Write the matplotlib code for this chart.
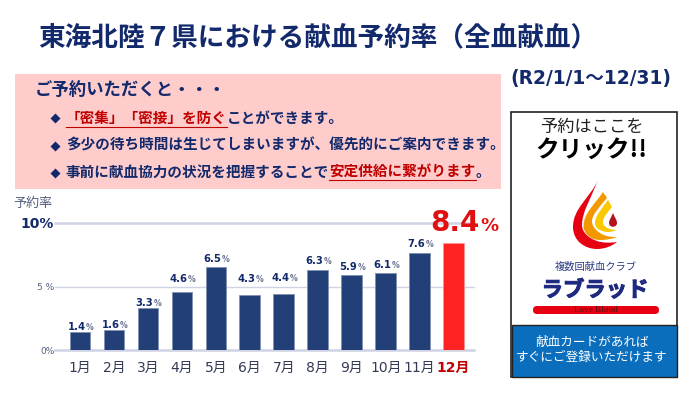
import matplotlib
matplotlib.use("Agg")
import matplotlib.pyplot as plt
from matplotlib.patches import Rectangle, FancyBboxPatch, PathPatch
from matplotlib.path import Path
import matplotlib.patheffects as pe

plt.rcParams['font.family'] = ['Noto Sans CJK JP', 'DejaVu Sans']
LATIN_FIRST = ['DejaVu Sans', 'Noto Sans CJK JP']

months = ["1月", "2月", "3月", "4月", "5月", "6月", "7月", "8月", "9月", "10月", "11月", "12月"]
rates = [1.4, 1.6, 3.3, 4.6, 6.5, 4.3, 4.4, 6.3, 5.9, 6.1, 7.6, 8.4]
y_ticks = [0, 5, 10]
y_labels = ["0%", "5 %", "10%"]
# where the value labels sit in the picture (pixels from top), they don't follow the bars evenly
label_base_px = [330.5, 327.5, 306, 282, 262, 282, 281, 264, 270, 268, 247]

NAVY = "#12296b"
BAR = "#233f77"
RED = "#ff2222"
DARKRED = "#c00000"
W, H = 700, 394

fig = plt.figure(figsize=(7.0, 3.94), dpi=100)
# pixel space overlay, y runs downward like the reference
bg = fig.add_axes([0, 0, 1, 1])
bg.set_xlim(0, W)
bg.set_ylim(H, 0)
bg.axis("off")


def runs(x, y, parts, size, weight="bold", underline_y=None):
    # put text pieces one after another, parts = (text, colour, underlined)
    r = fig.canvas.get_renderer()
    for s, col, ul in parts:
        t = bg.text(x, y, s, color=col, fontsize=size, fontweight=weight, va="center", ha="left")
        w = t.get_window_extent(r).width
        if ul:
            bg.plot([x, x + w], [underline_y, underline_y], color=col, lw=0.8)
        x += w


bg.text(38, 38, "東海北陸７県における献血予約率（全血献血）", color=NAVY, fontsize=19.2,
        fontweight="bold", va="center", ha="left")
bg.text(510, 78, "(R2/1/1～12/31)", color=NAVY, fontsize=13.4, fontweight="bold", va="center", ha="left",
        family=LATIN_FIRST)

# pink box
bg.add_patch(Rectangle((15, 74), 486, 115, fc="#ffcccc", ec="none"))
bg.text(35, 90, "ご予約いただくと・・・", color=NAVY, fontsize=12.5, fontweight="bold", va="center")
for yy in (118, 146, 173):
    bg.plot([55], [yy], marker="D", ms=5.5, color=NAVY, mec="none")
runs(66, 118, [("「密集」「密接」を防ぐ", DARKRED, True), ("ことができます。", NAVY, False)], 10.5, underline_y=126.5)
runs(66, 145, [("多少の待ち時間は生じてしまいますが、優先的にご案内できます。", NAVY, False)], 10.5)
runs(66, 172, [("事前に献血協力の状況を把握することで", NAVY, False), ("安定供給に繋がります", DARKRED, True),
               ("。", NAVY, False)], 10.5, underline_y=180)

# click panel
bg.add_patch(Rectangle((511, 112), 166, 265, fc="white", ec="#222222", lw=1.2))
bg.add_patch(Rectangle((511.5, 325), 165, 52, fc="#0a6ebd", ec="#222222", lw=1.0))
bg.text(592, 127, "予約はここを", color="#222222", fontsize=12.4, ha="center", va="center")
bg.text(591, 150, "クリック!!", color="black", fontsize=17, fontweight="bold", ha="center", va="center")
bg.text(592, 342, "献血カードがあれば", color="white", fontsize=9.1, ha="center", va="center")
bg.text(592, 358, "すぐにご登録いただけます", color="white", fontsize=9.1, ha="center", va="center")

# logo
M, C = Path.MOVETO, Path.CURVE4


def drop(pts, col):
    codes = [M] + [C] * (len(pts) - 1)
    bg.add_patch(PathPatch(Path(pts, codes), fc=col, ec="none"))


drop([(598, 180), (590, 198), (573, 208), (573, 227), (573, 241), (585, 249), (597, 249),
      (605, 249), (612, 246), (617, 242), (610, 243), (603, 243), (597, 241),
      (588, 238), (582, 232), (582, 225), (582, 212), (591, 198), (598, 180)], "#e60012")
drop([(603, 192), (596, 203), (583.5, 213), (583.5, 226), (583.5, 233), (590, 240), (600, 240),
      (606, 240), (612, 239), (617, 237), (610, 237), (604, 236), (600, 233),
      (594, 229), (592, 225), (592, 221), (592, 215), (600, 206), (607, 198),
      (606, 196), (604, 194), (603, 192)], "#f39800")
drop([(608, 200), (602, 208), (595, 216), (595, 223), (595, 229), (602, 232), (608, 232),
      (611, 232), (614, 231), (617, 230), (611, 230), (603, 228), (603, 222),
      (603, 217), (608, 212), (612, 207), (611, 205), (609, 202), (608, 200)], "#fcc800")
drop([(613, 213), (611, 218), (609, 220), (609, 223), (609, 228), (617, 228), (617, 223),
      (617, 220), (615, 218), (613, 213)], "#b5131e")
bg.text(596, 267, "複数回献血クラブ", color="#2a3a80", fontsize=7.4, ha="center", va="center")
bg.text(595, 290, "ラブラッド", color="#1d2a80", fontsize=15.4, fontweight="bold", ha="center", va="center",
        path_effects=[pe.withStroke(linewidth=0.7, foreground="#1d2a80")])
bg.add_patch(FancyBboxPatch((533, 306), 126, 8, boxstyle="round,pad=0,rounding_size=4",
                            fc="#e60012", ec="none"))
bg.text(596, 310, "Love Blood", color="#5a1010", fontsize=6.6, family="Liberation Serif", ha="center", va="center")

# bar chart
left, right, top, bottom = 55, 474, 223, 350
ax = fig.add_axes([left / W, 1 - bottom / H, (right - left) / W, (bottom - top) / H])
ax.patch.set_alpha(0)
xs = list(range(len(rates)))
colors = [BAR] * 11 + [RED]
ax.set_axisbelow(True)
ax.bar(xs, rates, width=0.61, color=colors, edgecolor=["#8090b0"] * 11 + ["#ff9090"], lw=0.6)
ax.set_xlim(-0.736, 11.6)
ax.set_ylim(0, 10)
for s in ax.spines.values():
    s.set_visible(False)
ax.set_xticks(xs)
ax.set_xticklabels(months, fontsize=10, color="#333a55", family=LATIN_FIRST)
ax.get_xticklabels()[-1].set_color(DARKRED)
ax.get_xticklabels()[-1].set_fontweight("bold")
ax.tick_params(length=0, pad=8, axis="x")
ax.tick_params(length=0, pad=0.5, axis="y", labelsize=6.5, labelcolor="#556080")
ax.set_yticks(y_ticks)
ax.set_yticklabels(y_labels, family="DejaVu Sans")
ax.get_yticklabels()[-1].set_fontsize(10)
ax.get_yticklabels()[-1].set_fontweight("bold")
ax.get_yticklabels()[-1].set_color(NAVY)
ax.grid(axis="y", color="#cfd3e3", lw=1.8)
ax.get_ygridlines()[1].set_linewidth(1.0)
for g in ax.get_ygridlines():
    g.set_clip_on(False)

# value labels: number and a small grey % next to it
for x, v, base in zip(xs[:-1], rates[:-1], label_base_px):
    px = left + (x + 0.736) / 12.336 * (right - left)
    bg.text(px - 3.5, base, f"{v:.1f}", ha="center", va="baseline", fontsize=7.2, fontweight="bold",
            color=NAVY, family="DejaVu Sans", zorder=5)
    bg.text(px + 9.5, base, "%", ha="center", va="baseline", fontsize=5.6, fontweight="bold",
            color="#667090", family="DejaVu Sans", zorder=5)
ax.annotate(f"{rates[-1]:.1f}", (xs[-1], rates[-1]), xytext=(1, 8.6), textcoords="offset points", ha="center",
            va="baseline", fontsize=20, fontweight="bold", color="#e01010", family="DejaVu Sans",
            annotation_clip=False)
ax.annotate("%", (xs[-1], rates[-1]), xytext=(25.5, 8.6), textcoords="offset points", ha="center",
            va="baseline", fontsize=13, fontweight="bold", color="#e01010", family="DejaVu Sans",
            annotation_clip=False)

bg.text(13, 203, "予約率", color="#556080", fontsize=9.4, va="center")

fig.savefig("out.png", dpi=100)
